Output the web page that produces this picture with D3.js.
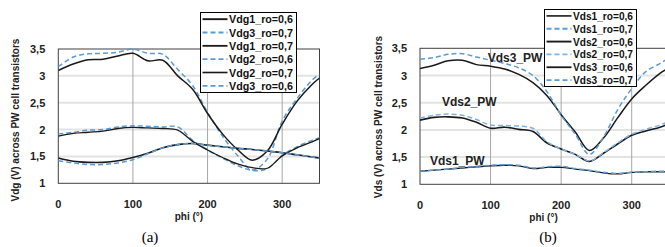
<!DOCTYPE html>
<html>
<head>
<meta charset="utf-8">
<script src="https://cdn.jsdelivr.net/npm/d3@7"></script>
<style>
  body { margin: 0; background: #fff; }
  svg { display: block; }
  text { font-family: "Liberation Sans", Arial, sans-serif; }
</style>
</head>
<body>
<svg id="chart" width="665" height="247"></svg>
<script>
// phi (deg) sample points shared by every curve
const phi = [0, 20, 40, 60, 80, 100, 120, 140, 160, 180, 200, 220, 240, 260, 280, 300, 320, 340, 350];
const xTicks = [0, 100, 200, 300];
const yTicks = [1, 1.5, 2, 2.5, 3, 3.5];

// panel (a) - Vdg
const vdgTopBlack = [3.10, 3.22, 3.30, 3.31, 3.37, 3.42, 3.28, 3.29, 3.00, 2.75, 2.30, 1.92, 1.63, 1.43, 1.60, 2.10, 2.53, 2.84, 2.96];
const vdgTopBlue  = [3.17, 3.35, 3.41, 3.42, 3.44, 3.50, 3.42, 3.40, 3.12, 2.82, 2.32, 1.88, 1.52, 1.25, 1.45, 2.16, 2.58, 2.92, 3.03];
const vdgMidBlack = [1.88, 1.93, 1.95, 1.97, 2.02, 2.04, 2.03, 2.02, 1.99, 1.78, 1.62, 1.48, 1.36, 1.29, 1.28, 1.51, 1.66, 1.77, 1.83];
const vdgMidBlue  = [1.92, 1.95, 1.99, 2.00, 2.05, 2.07, 2.06, 2.05, 2.05, 1.80, 1.62, 1.47, 1.33, 1.24, 1.27, 1.52, 1.68, 1.80, 1.85];
const vdgLowBlack = [1.47, 1.41, 1.39, 1.39, 1.42, 1.48, 1.56, 1.66, 1.72, 1.74, 1.71, 1.68, 1.65, 1.63, 1.60, 1.57, 1.53, 1.49, 1.47];
const vdgLowBlue  = [1.42, 1.38, 1.35, 1.35, 1.38, 1.44, 1.55, 1.66, 1.72, 1.74, 1.71, 1.68, 1.65, 1.63, 1.60, 1.57, 1.53, 1.49, 1.47];

// panel (b) - Vds
const vds3Black = [3.13, 3.19, 3.27, 3.28, 3.20, 3.17, 3.12, 3.02, 2.87, 2.63, 2.28, 1.96, 1.62, 1.85, 2.22, 2.57, 2.82, 3.04, 3.12];
const vds3Blue  = [3.30, 3.33, 3.39, 3.40, 3.34, 3.28, 3.22, 3.14, 3.00, 2.70, 2.27, 1.92, 1.55, 1.87, 2.37, 2.76, 3.07, 3.22, 3.30];
const vds2Black = [2.18, 2.23, 2.24, 2.22, 2.14, 2.03, 2.05, 2.01, 1.97, 1.76, 1.65, 1.55, 1.42, 1.57, 1.74, 1.90, 1.98, 2.05, 2.10];
const vds2Blue  = [2.22, 2.27, 2.29, 2.27, 2.19, 2.09, 2.08, 2.07, 2.03, 1.78, 1.65, 1.55, 1.43, 1.58, 1.76, 1.92, 2.01, 2.09, 2.14];
const vds1Black = [1.24, 1.26, 1.28, 1.30, 1.32, 1.34, 1.35, 1.34, 1.29, 1.31, 1.31, 1.28, 1.25, 1.21, 1.19, 1.22, 1.23, 1.23, 1.23];
const vds1Blue  = [1.24, 1.26, 1.28, 1.31, 1.33, 1.35, 1.36, 1.35, 1.30, 1.32, 1.33, 1.29, 1.26, 1.22, 1.20, 1.22, 1.23, 1.24, 1.24];

const BLACK = "#1a1a1a";
const BLUE = "#5b9bd5";
const LIGHTBLUE = "#7fb2e3";

const panels = [
    {
        id: "a",
        x: [58.3, 319.5], y: [183.3, 49],
        yTitle: "Vdg (V) across PW cell transistors",
        titleX: 15, titleY: 120,
        caption: "(a)", captionX: 150,
        series: [
            { name: "Vdg1_ro=0,6", values: vdgLowBlack, color: BLACK, width: 1.6 },
            { name: "Vdg3_ro=0,7", values: vdgTopBlue, color: BLUE, width: 1.5, dash: "5,3" },
            { name: "Vdg1_ro=0,7", values: vdgTopBlack, color: BLACK, width: 1.5 },
            { name: "Vdg2_ro=0,6", values: vdgMidBlue, color: BLUE, width: 1.5, dash: "5,3" },
            { name: "Vdg2_ro=0,7", values: vdgMidBlack, color: BLACK, width: 1.3 },
            { name: "Vdg3_ro=0,6", values: vdgLowBlue, color: BLUE, width: 1.5, dash: "5,3" }
        ],
        legend: { x: 200.5, y: 12.5, w: 96, h: 80, textW: 64 },
        labels: []
    },
    {
        id: "b",
        x: [420, 667], y: [184.3, 48.3],
        yTitle: "Vds (V) across PW cell transistors",
        titleX: 378, titleY: 117,
        caption: "(b)", captionX: 548,
        series: [
            { name: "Vds1_ro=0,6", values: vds1Black, color: BLACK, width: 1.3 },
            { name: "Vds1_ro=0,7", values: vds1Blue, color: BLUE, width: 1.5, dash: "5,3" },
            { name: "Vds2_ro=0,6", values: vds2Black, color: BLACK, width: 1.6 },
            { name: "Vds2_ro=0,7", values: vds2Blue, color: LIGHTBLUE, width: 1.5, dash: "5,3" },
            { name: "Vds3_ro=0,6", values: vds3Black, color: BLACK, width: 1.5 },
            { name: "Vds3_ro=0,7", values: vds3Blue, color: BLUE, width: 1.5, dash: "5,3" }
        ],
        legend: { x: 544.5, y: 9.5, w: 92, h: 77, textW: 60 },
        labels: [
            { text: "Vds3_PW", phi: 96, v: 3.25 },
            { text: "Vds2_PW", phi: 31, v: 2.44 },
            { text: "Vds1_PW", phi: 14, v: 1.355 }
        ]
    }
];

const svg = d3.select("#chart");

panels.forEach(p => drawPanel(p));

function drawPanel(p) {
    const x = d3.scaleLinear().domain([0, 350]).range(p.x);
    const y = d3.scaleLinear().domain([1, 3.5]).range(p.y);
    const g = svg.append("g");

    const clipId = "clip-" + p.id;
    svg.append("clipPath").attr("id", clipId)
        .append("rect")
        .attr("x", p.x[0]).attr("y", p.y[1] - 2)
        .attr("width", p.x[1] - p.x[0]).attr("height", p.y[0] - p.y[1] + 4);

    // horizontal grid (light)
    g.selectAll(".hgrid")
        .data(yTicks.filter(t => t > 1 && t < 3.5))
        .enter().append("line")
        .attr("x1", p.x[0]).attr("x2", p.x[1])
        .attr("y1", d => y(d)).attr("y2", d => y(d))
        .attr("stroke", "#e3e3e3").attr("stroke-width", 2);

    // vertical grid
    g.selectAll(".vgrid")
        .data(xTicks.filter(t => t > 0))
        .enter().append("line")
        .attr("x1", d => x(d)).attr("x2", d => x(d))
        .attr("y1", p.y[1]).attr("y2", p.y[0])
        .attr("stroke", "#a6a6a6").attr("stroke-width", 1);

    // plot frame
    g.append("rect")
        .attr("x", p.x[0]).attr("y", p.y[1])
        .attr("width", p.x[1] - p.x[0]).attr("height", p.y[0] - p.y[1])
        .attr("fill", "none").attr("stroke", "#404040").attr("stroke-width", 1);

    // tick labels
    g.selectAll(".ytick")
        .data(yTicks)
        .enter().append("text")
        .attr("x", p.x[0] - 13).attr("y", d => y(d) + 4)
        .attr("text-anchor", "end")
        .attr("font-size", 11).attr("font-weight", "bold").attr("fill", "#222")
        .text(d => String(d).replace(".", ","));

    g.selectAll(".xtick")
        .data(xTicks)
        .enter().append("text")
        .attr("x", d => x(d)).attr("y", p.y[0] + 24.5)
        .attr("text-anchor", "middle")
        .attr("font-size", 11).attr("font-weight", "bold").attr("fill", "#222")
        .text(d => d);

    g.append("text")
        .attr("x", (p.x[0] + p.x[1]) / 2).attr("y", p.y[0] + 37)
        .attr("text-anchor", "middle")
        .attr("font-size", 10).attr("font-weight", "bold").attr("fill", "#222")
        .text("phi (°)");

    g.append("text")
        .attr("transform", `translate(${p.titleX + 3.5},${p.titleY}) rotate(-90)`)
        .attr("text-anchor", "middle")
        .attr("font-size", 10).attr("font-weight", "bold").attr("fill", "#222")
        .text(p.yTitle);

    g.append("text")
        .attr("x", p.captionX).attr("y", 242)
        .attr("text-anchor", "middle")
        .attr("font-size", 15).attr("fill", "#000")
        .style("font-family", '"Liberation Serif", "Times New Roman", serif')
        .text(p.caption);

    // curves
    const line = d3.line()
        .x((d, i) => x(phi[i]))
        .y(d => y(d))
        .curve(d3.curveCatmullRom.alpha(0.5));

    const curves = g.append("g").attr("clip-path", `url(#${clipId})`);
    curves.selectAll("path")
        .data(p.series)
        .enter().append("path")
        .attr("d", s => line(s.values))
        .attr("fill", "none")
        .attr("stroke", s => s.color)
        .attr("stroke-width", s => s.width)
        .attr("stroke-dasharray", s => s.dash || null);

    // curve labels
    g.selectAll(".clabel")
        .data(p.labels)
        .enter().append("text")
        .attr("x", d => x(d.phi)).attr("y", d => y(d.v))
        .attr("font-size", 12).attr("font-weight", "bold").attr("fill", "#222")
        .text(d => d.text);

    // legend
    const lg = g.append("g");
    lg.append("rect")
        .attr("x", p.legend.x).attr("y", p.legend.y)
        .attr("width", p.legend.w).attr("height", p.legend.h)
        .attr("fill", "#fff").attr("stroke", "#000").attr("stroke-width", 1);

    const rowH = p.legend.h / p.series.length;
    const items = lg.selectAll(".item")
        .data(p.series)
        .enter().append("g")
        .attr("transform", (d, i) => `translate(${p.legend.x},${p.legend.y + rowH * (i + 0.5)})`);

    items.append("line")
        .attr("x1", 2).attr("x2", 27)
        .attr("stroke", s => s.color)
        .attr("stroke-width", s => s.width + 0.3)
        .attr("stroke-dasharray", s => s.dash || null);

    items.append("text")
        .attr("x", 28.5).attr("y", 4)
        .attr("font-size", 11).attr("font-weight", "bold").attr("fill", "#111")
        .attr("textLength", p.legend.textW)
        .attr("lengthAdjust", "spacingAndGlyphs")
        .text(s => s.name);
}
</script>
</body>
</html>
